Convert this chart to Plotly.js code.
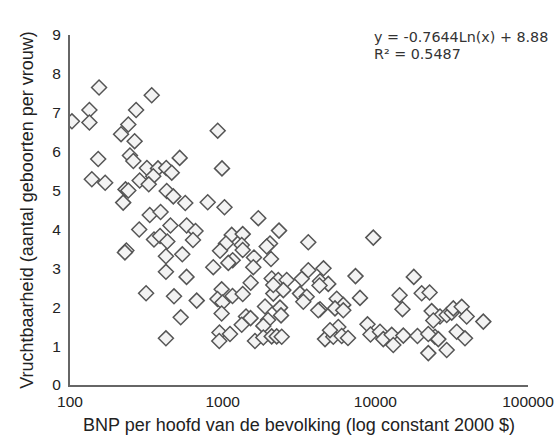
<!DOCTYPE html>
<html>
<head>
<meta charset="utf-8">
<script src="https://cdn.plot.ly/plotly-3.0.1.min.js"></script>
<style>html,body{margin:0;padding:0;background:#fff;}#chart{width:554px;height:441px;}</style>
</head>
<body>
<div id="chart"></div>
<script>
// BNP per hoofd (constant 2000 $)
const bnp = [103,134,134,155,153,139,170,271,241,216,265,343,247,260,319,377,427,464,351,286,328,523,231,241,223,430,475,569,798,1028,928,990,1712,333,392,284,455,581,664,639,355,389,434,2339,1146,1353,1051,1333,1353,2042,1943,961,234,229,425,544,1163,1089,1604,2073,868,1587,425,580,3638,9697,3638,4576,3294,4341,4919,4308,7413,17860,2095,2314,2627,1526,2146,2496,2146,3210,3551,3374,315,480,676,985,1160,1353,925,997,985,1894,2374,2411,1422,1522,1333,1982,1846,531,425,953,1117,950,1628,1846,2095,2259,2436,5584,6167,5443,6167,4341,4230,7935,14420,15060,20120,22670,4681,5305,5722,6022,6622,5047,8884,9296,10730,11270,12800,13110,15250,18880,22230,23390,26520,23970,29340,31640,32410,36790,39660,34120,38660,24590,25850,29340,50960,22230];
// Vruchtbaarheid (aantal geboorten per vrouw)
const vruchtbaarheid = [6.78,7.07,6.75,7.65,5.81,5.29,5.20,7.07,6.70,6.45,6.27,7.45,5.90,5.76,5.58,5.57,5.58,5.46,5.37,5.26,5.16,5.84,5.03,5.00,4.69,4.99,4.85,4.68,4.70,4.57,6.54,5.57,4.29,4.37,4.45,4.00,4.10,4.10,3.96,3.73,3.74,3.83,3.69,3.97,3.86,3.88,3.64,3.60,3.47,3.64,3.56,3.45,3.46,3.41,3.31,3.36,3.21,3.14,3.28,3.24,3.03,3.03,2.91,2.78,3.67,3.79,2.95,3.00,2.73,2.67,2.60,2.56,2.80,2.78,2.74,2.70,2.70,2.63,2.35,2.44,2.57,2.35,2.27,2.14,2.36,2.28,2.17,2.46,2.29,2.34,2.21,2.12,1.84,2.02,1.99,1.79,1.76,1.72,1.55,1.67,1.52,1.74,1.20,1.35,1.31,1.13,1.13,1.22,1.25,1.25,1.24,2.22,2.06,1.97,1.92,1.95,1.92,2.24,2.31,1.95,2.36,2.38,1.18,1.24,1.49,1.26,1.21,1.41,1.56,1.30,1.37,1.18,1.29,1.03,1.27,1.26,0.82,1.90,1.76,1.66,1.80,1.86,1.97,2.01,1.76,1.37,1.20,1.24,1.18,0.90,1.63,1.31];
const xTickVals = [100, 1000, 10000, 100000];
const xTickText = ['100', '1000', '10000', '100000'];
const yTickVals = [0,1,2,3,4,5,6,7,8,9];
const equationText = 'y = -0.7644Ln(x) + 8.88';
const r2Text = 'R² = 0.5487';
const xTitle = 'BNP per hoofd van de bevolking (log constant 2000 $)';
const yTitle = 'Vruchtbaarheid (aantal geboorten per vrouw)';

const trace = {
  x: bnp, y: vruchtbaarheid, type: 'scatter', mode: 'markers',
  marker: {symbol: 'diamond', size: 11.5, color: '#f3f3f3', line: {color: '#555555', width: 1.5}},
  hoverinfo: 'none'
};
const layout = {
  width: 554, height: 441,
  margin: {l: 70, r: 26, t: 35, b: 56},
  paper_bgcolor: '#ffffff', plot_bgcolor: '#ffffff',
  showlegend: false,
  font: {family: 'Liberation Sans, Arial, sans-serif', color: '#222'},
  xaxis: {
    type: 'log', range: [2, 5], tickvals: xTickVals, ticktext: xTickText,
    showgrid: false, zeroline: false, showline: true, linecolor: '#666', linewidth: 2,
    ticks: '', tickfont: {size: 15.5, color: '#222'}, ticklabelstandoff: 1,
    ticklabeloverflow: 'allow',
    title: {text: xTitle, font: {size: 18, color: '#222'}, standoff: 10},
    automargin: false
  },
  yaxis: {
    range: [0, 9], tickvals: yTickVals, showgrid: false, zeroline: false,
    showline: true, linecolor: '#666', linewidth: 2, ticks: '',
    tickfont: {size: 15.5, color: '#222'}, ticklabelstandoff: 4,
    ticklabeloverflow: 'allow',
    title: {text: yTitle, font: {size: 18, color: '#222'}, standoff: 14},
    automargin: false
  },
  annotations: [
    {xref: 'paper', yref: 'paper', x: (372-70)/458, y: (385-37)/350, xanchor: 'left', yanchor: 'middle',
     text: equationText, showarrow: false, font: {family: 'DejaVu Sans, sans-serif', size: 14.3, color: '#333'}},
    {xref: 'paper', yref: 'paper', x: (372-70)/458, y: (385-54)/350, xanchor: 'left', yanchor: 'middle',
     text: r2Text, showarrow: false, font: {family: 'DejaVu Sans, sans-serif', size: 14.3, color: '#333'}}
  ]
};
Plotly.newPlot('chart', [trace], layout, {displayModeBar: false, staticPlot: true});
</script>
</body>
</html>
